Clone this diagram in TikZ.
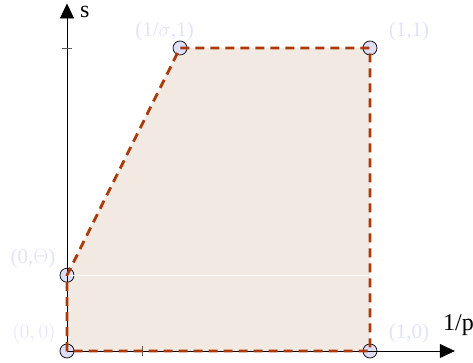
\documentclass[tikz,border=0pt]{standalone}
\usepackage{fontspec}
\setmainfont{Liberation Serif}
\usetikzlibrary{arrows.meta}
\definecolor{edgebrown}{RGB}{172,58,8}
\definecolor{regionfill}{RGB}{243,233,227}
\definecolor{lblblue}{RGB}{226,226,255}
\definecolor{ptfill}{RGB}{222,222,246}
\begin{document}
\begin{tikzpicture}[x=303pt, y=303pt,
  corner/.style={circle, draw=black, fill=ptfill, line width=0.7pt, inner sep=0pt, minimum size=14pt},
  lbl/.style={text=lblblue, font=\fontsize{21}{21}\selectfont, inner sep=0pt},
  axlbl/.style={font=\fontsize{24}{24}\selectfont, inner sep=0pt},
  axis/.style={line width=0.8pt, -{Triangle[width=14pt,length=15pt]}},
  edge/.style={edgebrown, line width=2.8pt, dash pattern=on 9pt off 6pt}]
\useasboundingbox (-0.2211,-0.0363) rectangle (1.3399,1.1584);

% Fill region
\fill[regionfill] (0,0) -- (0,0.25) -- (0.373,1) -- (1,1) -- (1,0) -- cycle;

% Corner points
\node[corner] (o) at (0,0) {};
\node[corner] (th) at (0,0.25) {};
\node[corner] (sg) at (0.373,1) {};
\node[corner] (one) at (1,1) {};
\node[corner] (xone) at (1,0) {};

% Draw axes
\coordinate (xend) at (1.28,0);
\coordinate (yend) at (0,1.147);
\draw[axis] (o.center) -- (xend);
\draw[axis] (o.center) -- (yend);
\node[axlbl, anchor=base west] (xlbl) at (1.241,0.069) {1/p};
\node[axlbl, anchor=base west] (ylbl) at (0.043,1.100) {s};

% Ticks
\draw[gray!70!black, line width=0.6pt] (-0.016,1) -- (0.016,1);
\draw[gray!70!black, line width=0.6pt] (0.25,-0.018) -- (0.25,0.018);

% Faint level line
\draw[white, line width=0.4pt] (th.center) -- (1,0.25);

% Boundary
\draw[edge] (o.center) -- (th.center) -- (sg.center) -- (one.center) -- (xone.center) -- cycle;

% Point labels
\node[lbl] (lo) at (-0.109,0.059) {$(0,0)$};
\node[lbl] (lth) at (-0.112,0.307) {(0,$\Theta$)};
\node[lbl] (lsg) at (0.322,1.053) {(1/$\sigma$,1)};
\node[lbl] (lone) at (1.129,1.053) {(1,1)};
\node[lbl] (lxone) at (1.129,0.059) {(1,0)};

\end{tikzpicture}
\end{document}
